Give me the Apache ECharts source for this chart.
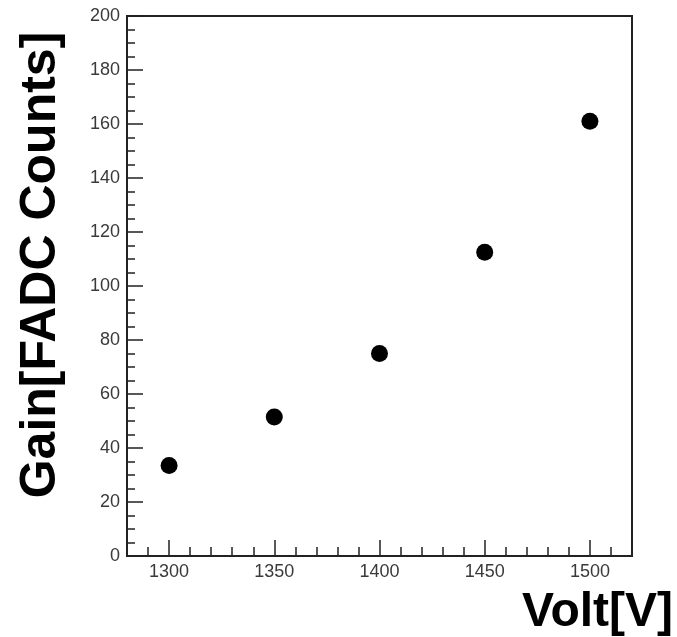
<!DOCTYPE html>
<html>
<head>
<meta charset="utf-8">
<script src="https://cdn.jsdelivr.net/npm/echarts@6/dist/echarts.min.js"></script>
<style>
html,body{margin:0;padding:0;background:#fff;}
#chart{width:677px;height:637px;}
</style>
</head>
<body>
<div id="chart"></div>
<script>
// Data
const voltages = [1300, 1350, 1400, 1450, 1500];
const gains = [33.5, 51.5, 75, 112.5, 161];
const xRange = [1280, 1520];
const xMajorRange = [1300, 1500];
const yRange = [0, 200];
const xTitle = 'Volt[V]';
const yTitle = 'Gain[FADC Counts]';

const points = voltages.map((v, i) => [v, gains[i]]);

const G = {left: 127, top: 16, w: 505, h: 540};
const pxPerUnit = G.w / (xRange[1] - xRange[0]);
const g2left = G.left + (xMajorRange[0] - xRange[0]) * pxPerUnit;
const g2width = (xMajorRange[1] - xMajorRange[0]) * pxPerUnit;

const axisColor = '#222';
const labelStyle = {color: '#3a3a3a', fontFamily: 'Liberation Sans', fontSize: 18};

const chart = echarts.init(document.getElementById('chart'));
chart.setOption({
  animation: false,
  backgroundColor: '#fff',
  grid: [
    {left: G.left, top: G.top, width: G.w, height: G.h, show: true, borderColor: axisColor, borderWidth: 2, backgroundColor: 'transparent'},
    {left: g2left, top: G.top, width: g2width, height: G.h, show: false}
  ],
  xAxis: [
    {
      gridIndex: 0, type: 'value', min: xRange[0], max: xRange[1], interval: 10,
      axisLine: {show: true, onZero: false, lineStyle: {color: axisColor, width: 2}},
      axisTick: {show: true, inside: true, length: 9, lineStyle: {color: axisColor, width: 1.5}},
      axisLabel: Object.assign({margin: 7, showMinLabel: false, showMaxLabel: false,
        formatter: v => (v % 50 === 0 ? String(v) : '')}, labelStyle),
      splitLine: {show: false}
    },
    {
      gridIndex: 1, type: 'value', min: xMajorRange[0], max: xMajorRange[1], interval: 50,
      axisLine: {show: false, onZero: false},
      axisTick: {show: true, inside: true, length: 16, lineStyle: {color: axisColor, width: 1.5}},
      axisLabel: {show: false},
      splitLine: {show: false}
    }
  ],
  yAxis: [
    {
      gridIndex: 0, type: 'value', min: yRange[0], max: yRange[1], interval: 20,
      axisLine: {show: true, onZero: false, lineStyle: {color: axisColor, width: 2}},
      axisTick: {show: true, inside: true, length: 16, lineStyle: {color: axisColor, width: 1.5}},
      minorTick: {show: true, splitNumber: 4, length: 8, lineStyle: {color: axisColor, width: 1.5}},
      axisLabel: Object.assign({margin: 7}, labelStyle),
      splitLine: {show: false}
    },
    {
      gridIndex: 1, type: 'value', min: yRange[0], max: yRange[1], show: false
    }
  ],
  series: [{
    type: 'scatter', xAxisIndex: 0, yAxisIndex: 0,
    data: points, symbol: 'circle', symbolSize: 17,
    itemStyle: {color: '#000', opacity: 1}
  }],
  graphic: [
    {
      type: 'text', x: 41, y: 265, rotation: Math.PI / 2,
      style: {text: yTitle, font: 'bold 50px "Liberation Sans"', fill: '#000', align: 'center', verticalAlign: 'middle'}
    },
    {
      type: 'text', x: 673, y: 613,
      style: {text: xTitle, font: 'bold 48px "Liberation Sans"', fill: '#000', align: 'right', verticalAlign: 'middle'}
    }
  ]
});
</script>
</body>
</html>
